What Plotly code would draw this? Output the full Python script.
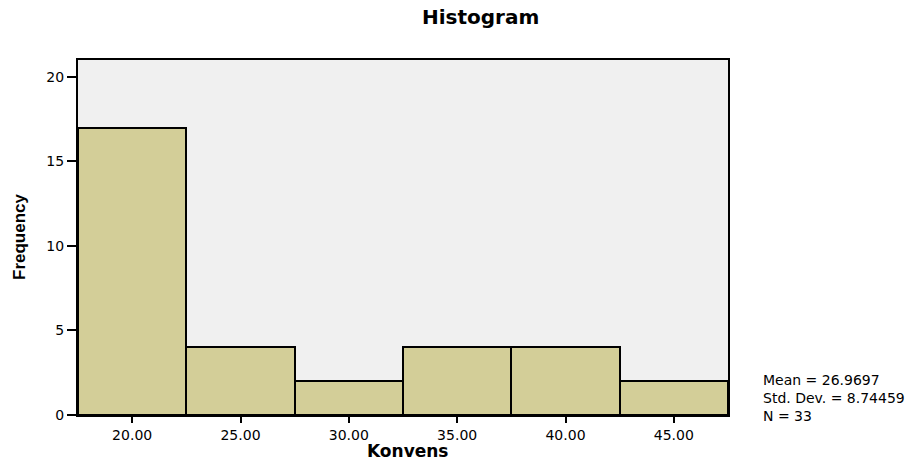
import plotly.graph_objects as go

bin_centers = [20, 25, 30, 35, 40, 45]
frequencies = [17, 4, 2, 4, 4, 2]
x_ticks = [20, 25, 30, 35, 40, 45]
x_tick_labels = ["20.00", "25.00", "30.00", "35.00", "40.00", "45.00"]
y_ticks = [0, 5, 10, 15, 20]
stats_text = "Mean = 26.9697<br>Std. Dev. = 8.74459<br>N = 33"

W, H = 914, 463
L, T = 78, 60
plot_w, plot_h = 650, 355
R = W - L - plot_w
B = H - T - plot_h


def px_x(page_x):
    return (page_x - L) / plot_w


def px_y(page_y):
    return (T + plot_h - page_y) / plot_h


fig = go.Figure()
fig.add_trace(go.Bar(
    x=bin_centers, y=frequencies, width=5,
    marker=dict(color="#D3CE98", line=dict(color="black", width=2)),
    showlegend=False, hoverinfo="x+y",
))

font = "DejaVu Sans, Verdana, sans-serif"
fig.update_layout(
    width=W, height=H,
    margin=dict(l=L, r=R, t=T, b=B, autoexpand=False),
    paper_bgcolor="white", plot_bgcolor="#F0F0F0",
    bargap=0,
    font=dict(family=font, size=14, color="black"),
    xaxis=dict(range=[17.5, 47.5], tickmode="array", tickvals=x_ticks,
               ticktext=x_tick_labels, ticks="outside", ticklen=6, tickwidth=2,
               tickcolor="black", showgrid=False, zeroline=False, automargin=False,
               showline=True, linecolor="black", linewidth=2, mirror=True,
               tickfont=dict(family=font, size=14)),
    yaxis=dict(range=[0, 21], tickmode="array", tickvals=y_ticks,
               ticks="outside", ticklen=9, tickwidth=2, tickcolor="black",
               showgrid=False, zeroline=False, automargin=False,
               showline=True, linecolor="black", linewidth=2, mirror=True,
               tickfont=dict(family=font, size=14)),
    annotations=[
        dict(text="<b>Histogram</b>", x=px_x(480), y=px_y(17), xref="paper", yref="paper",
             showarrow=False, xanchor="center", yanchor="middle",
             font=dict(family=font, size=20, color="black")),
        dict(text="<b>Konvens</b>", x=px_x(408), y=px_y(463), xref="paper", yref="paper",
             showarrow=False, xanchor="center", yanchor="bottom",
             font=dict(family=font, size=17, color="black")),
        dict(text="<b>Frequency</b>", x=px_x(19), y=px_y(237), xref="paper", yref="paper",
             showarrow=False, xanchor="center", yanchor="middle", textangle=-90,
             font=dict(family="Liberation Sans Narrow, Liberation Sans, sans-serif", size=17,
                       color="black")),
        dict(text=stats_text, x=px_x(761), y=px_y(398), xref="paper", yref="paper",
             showarrow=False, align="left", xanchor="left", yanchor="middle",
             font=dict(family=font, size=14, color="black")),
    ],
)

fig.write_html("out.html", config={"displayModeBar": False},
               post_script="document.body.style.margin='0';")
